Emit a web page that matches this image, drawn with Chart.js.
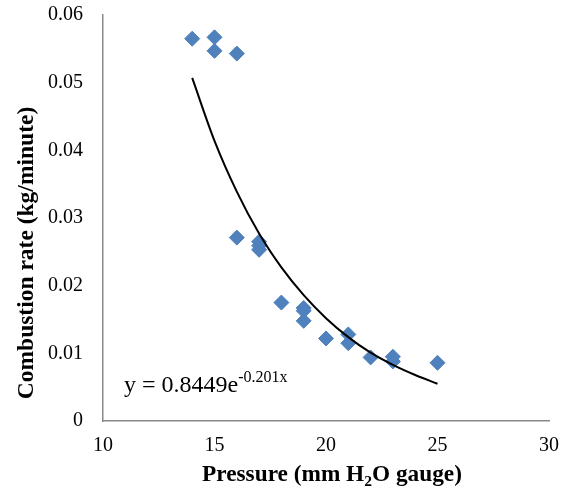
<!DOCTYPE html>
<html>
<head>
<meta charset="utf-8">
<script src="https://cdn.jsdelivr.net/npm/chart.js@4"></script>
<style>
html,body{margin:0;padding:0;background:#fff;}
#wrap{width:567px;height:497px;position:relative;}
</style>
</head>
<body>
<div id="wrap"><canvas id="c" width="567" height="497"></canvas></div>
<script>
// Measured data (pressure in mm H2O gauge, combustion rate in kg/minute)
const pressure = [14, 15, 15, 16, 16, 17, 17, 17, 18, 19, 19, 19, 20, 21, 21, 22, 23, 23, 25];
const rate = [0.0565, 0.0567, 0.0547, 0.0543, 0.0271, 0.0265, 0.0259, 0.0253, 0.0175, 0.0167, 0.0163, 0.0148, 0.0122, 0.0128, 0.0115, 0.0094, 0.0095, 0.0088, 0.0086];
// Exponential trendline values
const trendX = [14, 15, 16, 17, 18, 19, 20, 21, 22, 23, 24, 25];
const trendY = [0.0507, 0.0414, 0.0339, 0.0277, 0.0227, 0.0186, 0.0152, 0.0124, 0.0101, 0.0083, 0.0068, 0.0055];
const xTicks = [10, 15, 20, 25, 30];
const yTicks = [0, 0.01, 0.02, 0.03, 0.04, 0.05, 0.06];
const xTitleParts = ["Pressure (mm H", "2", "O gauge)"];
const yTitle = "Combustion rate (kg/minute)";
const eqMain = "y = 0.8449e";
const eqSup = "-0.201x";

const SERIF = '"Liberation Serif", "Times New Roman", serif';

const titlePlugin = {
  id: 'titles',
  afterDraw(chart) {
    const ctx = chart.ctx;
    ctx.save();
    ctx.fillStyle = '#000';
    // y title
    ctx.font = 'bold 23.5px ' + SERIF;
    ctx.translate(33, 253);
    ctx.rotate(-Math.PI / 2);
    ctx.textAlign = 'center';
    ctx.textBaseline = 'alphabetic';
    ctx.fillText(yTitle, 0, 0);
    ctx.restore();

    // x title with subscript
    ctx.save();
    ctx.fillStyle = '#000';
    ctx.textBaseline = 'alphabetic';
    ctx.textAlign = 'left';
    const fMain = 'bold 23.3px ' + SERIF;
    const fSub = 'bold 15.5px ' + SERIF;
    ctx.font = fMain;
    const w1 = ctx.measureText(xTitleParts[0]).width;
    const w3 = ctx.measureText(xTitleParts[2]).width;
    ctx.font = fSub;
    const w2 = ctx.measureText(xTitleParts[1]).width;
    const total = w1 + w2 + w3;
    let x = 332 - total / 2;
    const base = 481;
    ctx.font = fMain;
    ctx.fillText(xTitleParts[0], x, base);
    x += w1;
    ctx.font = fSub;
    ctx.fillText(xTitleParts[1], x, base + 5);
    x += w2;
    ctx.font = fMain;
    ctx.fillText(xTitleParts[2], x, base);

    // equation
    ctx.font = '24px ' + SERIF;
    const ex = 124;
    ctx.fillText(eqMain, ex, 392);
    const we = ctx.measureText(eqMain).width;
    ctx.font = '16px ' + SERIF;
    ctx.fillText(eqSup, ex + we, 382);
    ctx.restore();
  }
};

const bgPlugin = {
  id: 'bg',
  beforeDraw(chart) {
    const ctx = chart.ctx;
    ctx.save();
    ctx.fillStyle = '#fff';
    ctx.fillRect(0, 0, chart.width, chart.height);
    ctx.restore();
  }
};

new Chart(document.getElementById('c'), {
  type: 'scatter',
  data: {
    datasets: [
      {
        type: 'line',
        data: trendX.map((x, i) => ({x: x, y: trendY[i]})),
        borderColor: '#000',
        borderWidth: 2,
        pointRadius: 0,
        fill: false,
        cubicInterpolationMode: 'monotone',
        order: 1
      },
      {
        data: pressure.map((x, i) => ({x: x, y: rate[i]})),
        pointStyle: 'rectRot',
        pointRadius: 7.5,
        backgroundColor: '#4F81BD',
        borderColor: '#4F81BD',
        borderWidth: 1,
        order: 2
      }
    ]
  },
  options: {
    responsive: false,
    animation: false,
    devicePixelRatio: 1,
    layout: {padding: {top: 15, right: 18, bottom: 0, left: 0}},
    plugins: {legend: {display: false}, tooltip: {enabled: false}},
    scales: {
      x: {
        type: 'linear',
        min: 10, max: 30,
        afterBuildTicks(scale) { scale.ticks = xTicks.map(v => ({value: v})); },
        afterFit(scale) { scale.height = 76; scale.paddingLeft = 0; scale.paddingRight = 0; },
        grid: {display: false, drawTicks: false},
        border: {display: true, color: '#898989', width: 1.5},
        ticks: {color: '#000', font: {family: SERIF, size: 20}, padding: 13, maxRotation: 0}
      },
      y: {
        type: 'linear',
        min: 0, max: 0.06,
        afterBuildTicks(scale) { scale.ticks = yTicks.map(v => ({value: v})); },
        afterFit(scale) { scale.width = 103; scale.paddingTop = 0; scale.paddingBottom = 0; },
        grid: {display: false, drawTicks: false},
        border: {display: true, color: '#898989', width: 1.5},
        ticks: {color: '#000', font: {family: SERIF, size: 20}, padding: 20,
          callback: (v) => String(Math.round(v * 100) / 100)}
      }
    }
  },
  plugins: [bgPlugin, titlePlugin]
});
</script>
</body>
</html>
